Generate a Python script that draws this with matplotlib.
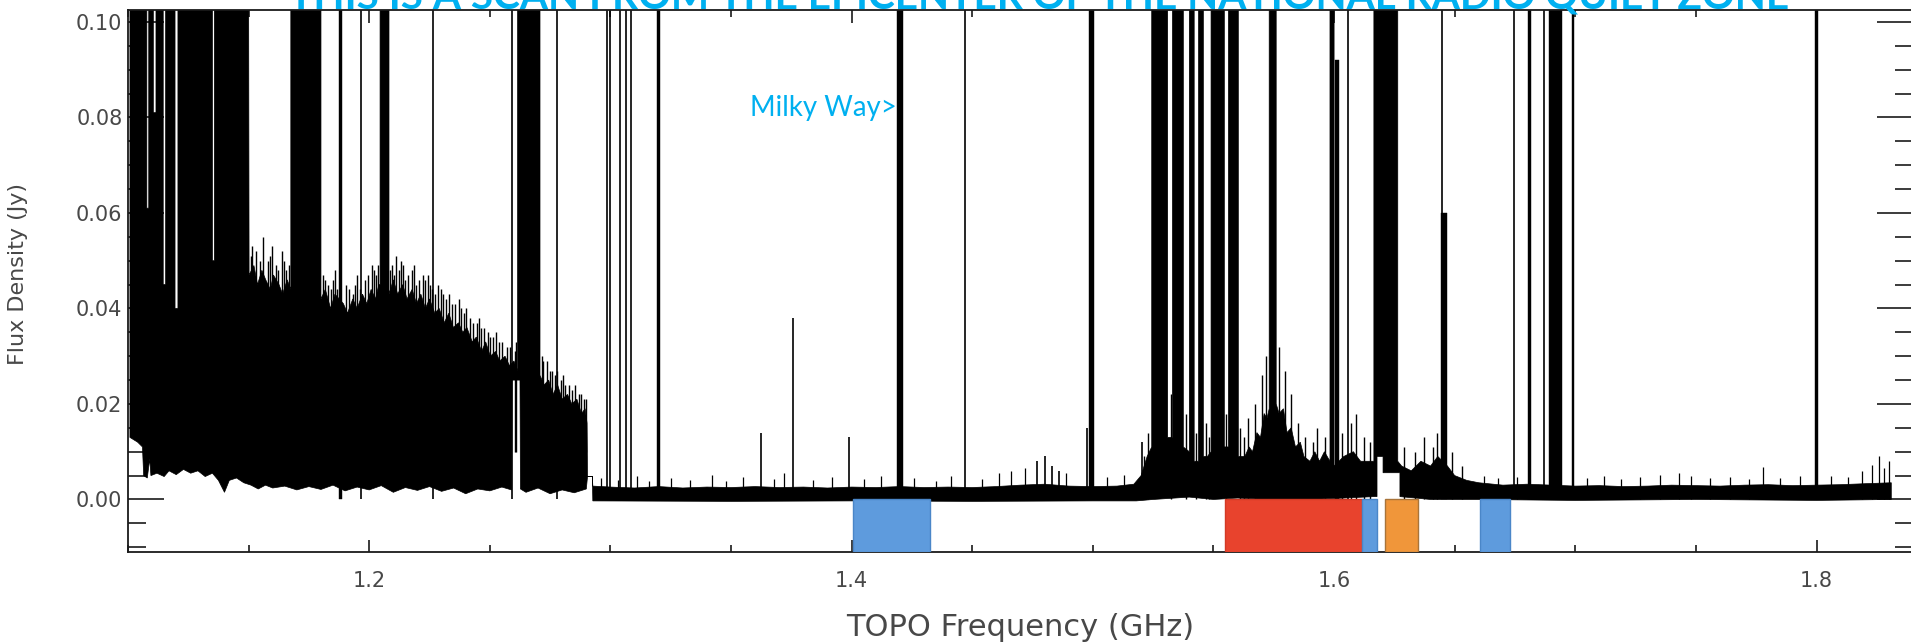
import numpy as np
import matplotlib
matplotlib.use("Agg")
import matplotlib.pyplot as plt
from matplotlib.ticker import MultipleLocator, FormatStrFormatter

# ---------------- data (GHz / Jy) ----------------
# upper edge of the black spectrum band (continuum + noise, incl. wide RFI blocks)
band_top_f = [1.1008,
              1.1078, 1.1078, 1.1086, 1.1086,
              1.1105, 1.1105, 1.1116, 1.1116,
              1.1146, 1.1146, 1.1156, 1.1156,
              1.1195, 1.1195, 1.1207, 1.1207,
              1.1350, 1.1350, 1.1358, 1.1358,
              1.1500, 1.1502, 1.1522, 1.1537, 1.1555, 1.1571, 1.1590, 1.1603,
              1.1626, 1.1641, 1.1660,
              1.1675, 1.1675, 1.1800, 1.1800,
              1.1818, 1.1840, 1.1858, 1.1893, 1.1910, 1.1932, 1.1950, 1.1972,
              1.1990, 1.2008, 1.2026, 1.2040,
              1.2045, 1.2045, 1.2082, 1.2082,
              1.2100, 1.2118, 1.2139, 1.2157, 1.2178, 1.2196, 1.2214, 1.2233,
              1.2250, 1.2272, 1.2290, 1.2311, 1.2330, 1.2349, 1.2370, 1.2388,
              1.2405, 1.2427, 1.2444, 1.2466, 1.2483, 1.2502, 1.2524, 1.2541,
              1.2563, 1.2582, 1.2600,
              1.2615, 1.2615, 1.2708, 1.2708,
              1.2725, 1.2744, 1.2762, 1.2781, 1.2800, 1.2822, 1.2840, 1.2861,
              1.2880, 1.2895, 1.2903,
              1.2905, 1.2925, 1.2927,
              1.3000, 1.3100, 1.3200, 1.3300, 1.3400, 1.3500, 1.3600, 1.3700,
              1.3800, 1.3900, 1.4000, 1.4100, 1.4200, 1.4300, 1.4400, 1.4500,
              1.4600, 1.4700, 1.4800, 1.4900, 1.5000, 1.5100, 1.5170,
              1.5200, 1.5225, 1.5244, 1.5244, 1.5310, 1.5310,
              1.5330, 1.5330, 1.5375, 1.5375, 1.5400, 1.5400, 1.5420, 1.5420,
              1.5438, 1.5438, 1.5458, 1.5458, 1.5475,
              1.5490, 1.5490, 1.5545, 1.5545, 1.5562, 1.5562, 1.5603, 1.5603,
              1.5630, 1.5648, 1.5662, 1.5680, 1.5695, 1.5710, 1.5722,
              1.5731, 1.5731, 1.5760, 1.5760,
              1.5772, 1.5790, 1.5805, 1.5822, 1.5840, 1.5860, 1.5875, 1.5900,
              1.5920, 1.5940, 1.5960,
              1.5983, 1.5983, 1.6000, 1.6000, 1.6040, 1.6080, 1.6110,
              1.6165, 1.6165, 1.6264, 1.6264, 1.6280, 1.6320, 1.6360, 1.6400,
              1.6430, 1.6470, 1.6500, 1.6550, 1.6600,
              1.6700, 1.6800, 1.6900, 1.7000, 1.7100, 1.7200, 1.7300, 1.7400,
              1.7500, 1.7600, 1.7700, 1.7800, 1.7900, 1.8000, 1.8100, 1.8200,
              1.8310]
band_top_v = [0.11,
              0.11, 0.061, 0.061, 0.11,
              0.11, 0.081, 0.081, 0.11,
              0.11, 0.045, 0.045, 0.11,
              0.11, 0.040, 0.040, 0.11,
              0.11, 0.050, 0.050, 0.11,
              0.11, 0.047, 0.049, 0.045, 0.048, 0.046, 0.044, 0.047,
              0.045, 0.043, 0.046,
              0.044, 0.11, 0.11, 0.042,
              0.044, 0.040, 0.043, 0.041, 0.039, 0.042, 0.040, 0.043,
              0.041, 0.044, 0.042, 0.045,
              0.045, 0.11, 0.11, 0.043,
              0.046, 0.043, 0.045, 0.042, 0.044, 0.041, 0.043, 0.040,
              0.042, 0.039, 0.040, 0.037, 0.039, 0.036, 0.037, 0.035,
              0.036, 0.033, 0.034, 0.031, 0.033, 0.030, 0.031, 0.029,
              0.030, 0.028, 0.029,
              0.027, 0.11, 0.11, 0.026,
              0.024, 0.025, 0.022, 0.024, 0.021, 0.022, 0.020, 0.021,
              0.018, 0.019, 0.016,
              0.0048, 0.0048, 0.0028,
              0.0026, 0.0024, 0.0027, 0.0024, 0.0026, 0.0025, 0.0027, 0.0025,
              0.0026, 0.0024, 0.0026, 0.0025, 0.0027, 0.0025, 0.0026, 0.0025,
              0.0027, 0.0030, 0.0032, 0.0028, 0.0027, 0.0028, 0.0032,
              0.0050, 0.0090, 0.0110, 0.11, 0.11, 0.013,
              0.013, 0.11, 0.11, 0.011, 0.010, 0.11, 0.11, 0.008,
              0.008, 0.11, 0.11, 0.009, 0.009,
              0.010, 0.11, 0.11, 0.011, 0.011, 0.11, 0.11, 0.009,
              0.009, 0.011, 0.010, 0.014, 0.013, 0.018, 0.017,
              0.019, 0.11, 0.11, 0.020,
              0.018, 0.019, 0.014, 0.015, 0.011, 0.012, 0.009, 0.008,
              0.010, 0.008, 0.010,
              0.008, 0.11, 0.11, 0.007, 0.009, 0.010, 0.008,
              0.008, 0.11, 0.11, 0.008, 0.007, 0.006, 0.008, 0.007,
              0.009, 0.007, 0.005, 0.004, 0.0035,
              0.0030, 0.0032, 0.0030, 0.0028, 0.0029, 0.0027, 0.0028, 0.0030,
              0.0029, 0.0028, 0.0030, 0.0031, 0.0029, 0.0030, 0.0031, 0.0033,
              0.0035]

# lower edge of the black spectrum band
band_bot_f = [1.1008, 1.1040, 1.1060, 1.1065, 1.1080, 1.1090, 1.1095, 1.1120,
              1.1150, 1.1170, 1.1200, 1.1230, 1.1260, 1.1290, 1.1320, 1.1350,
              1.1375, 1.1400, 1.1420, 1.1450, 1.1480, 1.1510, 1.1540, 1.1570,
              1.1600, 1.1650, 1.1700, 1.1750, 1.1800, 1.1850, 1.1900, 1.1950,
              1.2000, 1.2050, 1.2100, 1.2150, 1.2200, 1.2250, 1.2300, 1.2350,
              1.2400, 1.2450, 1.2500, 1.2550, 1.2590, 1.2592, 1.2625, 1.2627,
              1.2650, 1.2700, 1.2750, 1.2800, 1.2850, 1.2900, 1.2905, 1.2925,
              1.2927, 1.3500, 1.4000, 1.4500, 1.5000, 1.5180,
              1.5250, 1.5400, 1.5500, 1.5600, 1.5800, 1.6000, 1.6165,
              1.6178, 1.6178, 1.6203, 1.6203, 1.6273, 1.6273, 1.6400, 1.6600,
              1.7000, 1.7500, 1.8000, 1.8310]
band_bot_v = [0.013, 0.012, 0.011, 0.005, 0.0045, 0.0085, 0.0050, 0.0055,
              0.0048, 0.0060, 0.0052, 0.0063, 0.0055, 0.0060, 0.0048, 0.0055,
              0.0040, 0.0015, 0.0040, 0.0045, 0.0035, 0.0030, 0.0022, 0.0030,
              0.0024, 0.0028, 0.0020, 0.0027, 0.0021, 0.0030, 0.0018, 0.0026,
              0.0020, 0.0029, 0.0015, 0.0025, 0.0019, 0.0027, 0.0017, 0.0024,
              0.0012, 0.0022, 0.0018, 0.0026, 0.0020, 0.0250, 0.0250, 0.0022,
              0.0015, 0.0024, 0.0012, 0.0020, 0.0014, 0.0022, 0.0048, 0.0048,
              -0.0003, -0.0004, -0.0003, -0.0004, -0.0003, -0.0003,
              0.0000, 0.0005, 0.0000, 0.0003, -0.0002, 0.0002, 0.0006,
              0.0006, 0.0090, 0.0090, 0.0056, 0.0056, 0.0006, 0.0000, 0.0000,
              -0.0002, 0.0000, -0.0002, 0.0000]

# narrow but resolved RFI lines (frequency span) reaching up to rfi_top
rfi_lo = [1.1874, 1.3194, 1.4190, 1.4982, 1.6004, 1.6443, 1.6802, 1.6890, 1.6985, 1.7994]
rfi_hi = [1.1886, 1.3206, 1.4211, 1.5003, 1.6020, 1.6470, 1.6818, 1.6945, 1.6995, 1.8006]
rfi_top = [0.11, 0.11, 0.11, 0.11, 0.092, 0.060, 0.11, 0.11, 0.11, 0.11]

# unresolved single-channel lines
line_f = [1.1966, 1.2263, 1.2592, 1.2780, 1.2985, 1.3000, 1.3040, 1.3065, 1.3085,
          1.3625, 1.3758, 1.3990, 1.4470, 1.4770, 1.4800, 1.4830, 1.4860, 1.4977,
          1.5205, 1.6058, 1.6446, 1.6744, 1.6872]
line_top = [0.11, 0.11, 0.11, 0.11, 0.11, 0.11, 0.11, 0.11, 0.11,
            0.014, 0.038, 0.013, 0.11, 0.008, 0.009, 0.007, 0.006, 0.015,
            0.012, 0.11, 0.11, 0.11, 0.11]

# noise spikes poking above the band (strong-RFI section 1.15-1.29 GHz)
burst_f = [1.1508, 1.1515, 1.1530, 1.1548, 1.1561, 1.1580, 1.1590, 1.1598, 1.1612,
           1.1620, 1.1638, 1.1648, 1.1655, 1.1668,
           1.1810, 1.1818, 1.1828, 1.1842, 1.1850, 1.1859, 1.1868, 1.1903, 1.1915,
           1.1931, 1.1940, 1.1948, 1.1962, 1.1982, 1.1995, 1.2011, 1.2020, 1.2029,
           1.2037,
           1.2088, 1.2095, 1.2103, 1.2112, 1.2124, 1.2131, 1.2140, 1.2149, 1.2162,
           1.2177, 1.2185, 1.2193, 1.2205, 1.2221, 1.2230, 1.2242, 1.2252, 1.2260,
           1.2271, 1.2285, 1.2299, 1.2305, 1.2318, 1.2330, 1.2344, 1.2355, 1.2372,
           1.2380, 1.2391, 1.2402, 1.2418, 1.2430, 1.2446, 1.2455, 1.2463, 1.2477,
           1.2491, 1.2500, 1.2512, 1.2525, 1.2538, 1.2550, 1.2571, 1.2585, 1.2603,
           1.2610,
           1.2715, 1.2722, 1.2735, 1.2748, 1.2758, 1.2769, 1.2780, 1.2796, 1.2805,
           1.2813, 1.2828, 1.2842, 1.2855, 1.2871, 1.2880, 1.2889, 1.2898]
burst_top = [0.051, 0.053, 0.052, 0.050, 0.055, 0.050, 0.051, 0.053, 0.049,
             0.048, 0.052, 0.050, 0.048, 0.049,
             0.047, 0.046, 0.045, 0.044, 0.046, 0.048, 0.044, 0.045, 0.044,
             0.043, 0.045, 0.047, 0.044, 0.046, 0.047, 0.049, 0.048, 0.047,
             0.049,
             0.048, 0.049, 0.047, 0.051, 0.048, 0.050, 0.049, 0.046, 0.047,
             0.048, 0.049, 0.045, 0.046, 0.047, 0.046, 0.047, 0.045, 0.044,
             0.043, 0.045, 0.044, 0.043, 0.042, 0.043, 0.041, 0.041, 0.042,
             0.040, 0.039, 0.040, 0.038, 0.037, 0.037, 0.038, 0.036, 0.036,
             0.035, 0.034, 0.034, 0.035, 0.033, 0.033, 0.032, 0.032, 0.031,
             0.033,
             0.030, 0.029, 0.029, 0.027, 0.027, 0.026, 0.027, 0.025, 0.026,
             0.024, 0.024, 0.023, 0.024, 0.022, 0.022, 0.021, 0.021]

# noise spikes in the 1.52-1.66 GHz satellite section
sat_f = [1.5212, 1.5228, 1.5322, 1.5388, 1.5427, 1.5468, 1.5480, 1.5553, 1.5612,
         1.5625, 1.5645, 1.5672, 1.5701, 1.5718, 1.5770, 1.5795, 1.5822, 1.5850,
         1.5881, 1.5912, 1.5928, 1.5962, 1.6031, 1.6070, 1.6092, 1.6125, 1.6150,
         1.6290, 1.6335, 1.6372, 1.6410, 1.6425, 1.6490, 1.6530]
sat_top = [0.009, 0.014, 0.022, 0.018, 0.014, 0.016, 0.013, 0.018, 0.015,
           0.013, 0.017, 0.020, 0.026, 0.030, 0.032, 0.027, 0.022, 0.016,
           0.013, 0.012, 0.015, 0.013, 0.014, 0.016, 0.018, 0.013, 0.012,
           0.011, 0.010, 0.013, 0.011, 0.014, 0.010, 0.007]

# small noise spikes on top of the flat band
spike_f = [1.2960, 1.3030, 1.3110, 1.3160, 1.3250, 1.3330, 1.3420, 1.3480, 1.3550,
           1.3680, 1.3720, 1.3840, 1.3920, 1.4050, 1.4120, 1.4260, 1.4350, 1.4410,
           1.4540, 1.4610, 1.4660, 1.4720, 1.4890, 1.5060, 1.5130, 1.6620, 1.6680,
           1.6760, 1.7050, 1.7120, 1.7190, 1.7270, 1.7350, 1.7430, 1.7480, 1.7560,
           1.7640, 1.7720, 1.7780, 1.7850, 1.7930, 1.8060, 1.8130, 1.8190, 1.8230,
           1.8260, 1.8280, 1.8300]
spike_top = [0.0045, 0.0040, 0.0050, 0.0038, 0.0046, 0.0041, 0.0052, 0.0039, 0.0047,
             0.0043, 0.0055, 0.0040, 0.0048, 0.0042, 0.0050, 0.0044, 0.0038, 0.0049,
             0.0042, 0.0056, 0.0060, 0.0065, 0.0055, 0.0047, 0.0052, 0.0050, 0.0045,
             0.0048, 0.0045, 0.0050, 0.0042, 0.0047, 0.0052, 0.0055, 0.0050, 0.0044,
             0.0048, 0.0043, 0.0068, 0.0046, 0.0049, 0.0050, 0.0047, 0.0060, 0.0072,
             0.0090, 0.0065, 0.0080]

# protected / allocated bands shown as boxes below zero
box_lo = [1.4006, 1.5548, 1.6116, 1.6211, 1.6605]
box_hi = [1.4325, 1.6116, 1.6178, 1.6348, 1.6730]
box_kind = ["astronomy", "gnss", "astronomy", "satellite", "astronomy"]

x_ticks_major = 0.2
title_text = "THIS IS A SCAN FROM THE EPICENTER OF THE NATIONAL RADIO QUIET ZONE"
note_text = "Milky Way>"

# ---------------- styling ----------------
kind_face = {"astronomy": "#5E9BDD", "gnss": "#E8432D", "satellite": "#F0963A"}
kind_edge = {"astronomy": "#4A86C8", "gnss": "#D23A26", "satellite": "#A8743A"}
CYAN = "#00B0F0"
LABEL = "#484848"
XLIM = (1.10, 1.84)
YLIM = (-0.011, 0.1025)
W, H = 1911, 643

fig = plt.figure(figsize=(W / 100, H / 100), dpi=100)
fig.patch.set_facecolor("white")
ax = fig.add_axes([128 / W, (H - 552) / H, (1913 - 128) / W, (552 - 10) / H])
ax.set_xlim(*XLIM)
ax.set_ylim(*YLIM)

# spectrum band
poly_x = np.r_[band_top_f, band_bot_f[::-1]]
poly_y = np.r_[band_top_v, band_bot_v[::-1]]
ax.fill(poly_x, poly_y, color="black", lw=0.5, zorder=2)

# resolved RFI
rfi_lo_a = np.array(rfi_lo)
ax.bar(rfi_lo_a, np.array(rfi_top), width=np.array(rfi_hi) - rfi_lo_a, bottom=0.0,
       align="edge", color="black", lw=0.3, edgecolor="black", zorder=2)
# single-channel lines and noise spikes
ax.vlines(line_f, 0.0, line_top, color="black", lw=1.2, zorder=2)
ax.vlines(burst_f, 0.01, burst_top, color="black", lw=1.0, zorder=2)
ax.vlines(sat_f, 0.0, sat_top, color="black", lw=1.0, zorder=2)
ax.vlines(spike_f, 0.0, spike_top, color="black", lw=0.9, zorder=2)

# boxes
for lo, hi, k in zip(box_lo, box_hi, box_kind):
    ax.bar(lo, 0.0 - YLIM[0], width=hi - lo, bottom=YLIM[0], align="edge",
           color=kind_face[k], edgecolor=kind_edge[k], lw=1.0, zorder=3)

# axes / ticks
for s in ax.spines.values():
    s.set_linewidth(1.3)
    s.set_color("#1a1a1a")
ax.xaxis.set_major_locator(MultipleLocator(x_ticks_major))
ax.xaxis.set_minor_locator(MultipleLocator(0.05))
ax.yaxis.set_major_locator(MultipleLocator(0.02))
ax.yaxis.set_minor_locator(MultipleLocator(0.005))
ax.xaxis.set_major_formatter(FormatStrFormatter("%.1f"))
ax.yaxis.set_major_formatter(FormatStrFormatter("%.2f"))
ax.tick_params(axis="y", which="major", direction="in", length=26, width=1.2,
               left=True, right=True, pad=4, labelsize=15, labelcolor=LABEL,
               color="#1a1a1a")
ax.tick_params(axis="y", which="minor", direction="in", length=13, width=1.2,
               left=True, right=True, color="#1a1a1a")
ax.tick_params(axis="x", which="major", direction="in", length=9, width=1.2,
               top=True, bottom=True, pad=14, labelsize=15, labelcolor=LABEL,
               color="#1a1a1a")
ax.tick_params(axis="x", which="minor", direction="in", length=5, width=1.2,
               top=True, bottom=True, color="#1a1a1a")
for t in ax.get_xticklabels() + ax.get_yticklabels():
    t.set_family("DejaVu Sans")

ax.set_xlabel("TOPO Frequency (GHz)", fontsize=22, color=LABEL, va="center")
ax.xaxis.set_label_coords(0.5, -0.140)
ax.set_ylabel("Flux Density (Jy)", fontsize=16, color=LABEL, va="center")
ax.yaxis.set_label_coords(-0.0616, 0.513)

# annotation text
note = ax.text(1.4188, 0.082, note_text, color=CYAN, ha="right", va="center",
               family=["Lato", "DejaVu Sans"], fontsize=20, zorder=5)

# title (cut off at the top of the image, as in the source)
title = fig.text(1039 / W, 1 - 8 / H, title_text, color=CYAN, ha="center",
                 va="baseline", family=["Lato", "DejaVu Sans"], fontweight="bold",
                 fontsize=40, zorder=5)

# fit text widths to the reference
fig.canvas.draw()
r = fig.canvas.get_renderer()
w_title = title.get_window_extent(r).width
title.set_fontsize(40 * 1502 / w_title)
w_note = note.get_window_extent(r).width
note.set_fontsize(20 * 147 / w_note)

fig.savefig("out.png", dpi=100, facecolor="white")
